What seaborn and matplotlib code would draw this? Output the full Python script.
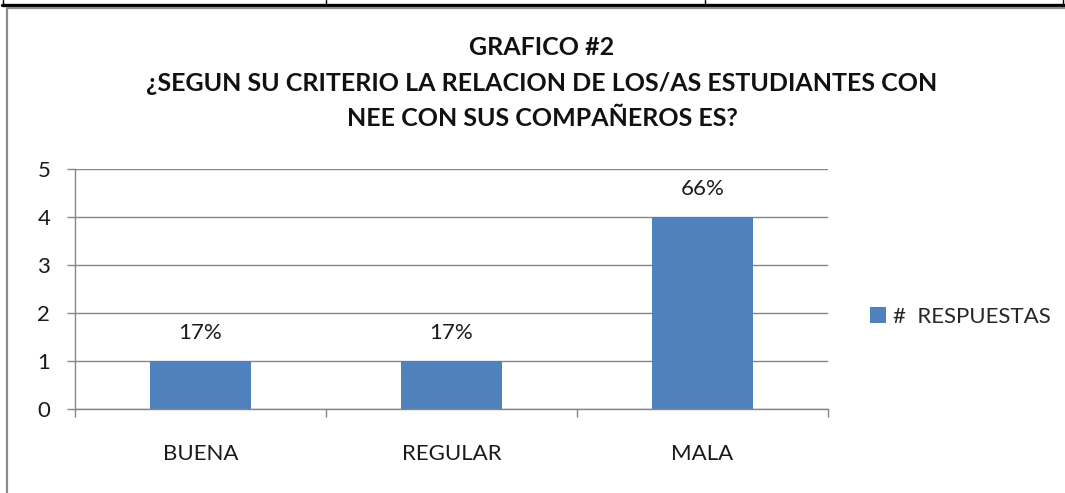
import matplotlib
matplotlib.use("Agg")
import matplotlib.pyplot as plt
import seaborn as sns
import pandas as pd
from matplotlib.lines import Line2D
from matplotlib.patches import Patch

categories = ["BUENA", "REGULAR", "MALA"]
values = [1, 1, 4]
pct_labels = ["17%", "17%", "66%"]
series_name = "#  RESPUESTAS"
title_lines = ["GRAFICO #2",
               "¿SEGUN SU CRITERIO LA RELACION DE LOS/AS ESTUDIANTES CON",
               "NEE CON SUS COMPAÑEROS ES?"]
yticks = [0, 1, 2, 3, 4, 5]

sns.set_theme(style="white")
plt.rcParams['font.family'] = ['Lato', 'DejaVu Sans']

BAR = "#4F81BD"
GRID = "#868686"
TXT = "#1a1a1a"
FS = 16

W, H = 1065, 493
fig = plt.figure(figsize=(W / 100, H / 100), dpi=100)
ax = fig.add_axes([75 / W, 1 - 409 / H, (828 - 75) / W, (409 - 169) / H])

df = pd.DataFrame({"cat": categories, "val": values})
sns.barplot(data=df, x="cat", y="val", order=categories, color=BAR,
            width=0.4, saturation=1, ax=ax, edgecolor="none")

ax.set_xlim(-0.5, 2.5)
ax.set_ylim(0, 5)
ax.set_yticks(yticks)
ax.set_xlabel("")
ax.set_ylabel("")
ax.yaxis.grid(True, color=GRID, linewidth=1)
ax.set_axisbelow(True)
for s in ["top", "right"]:
    ax.spines[s].set_visible(False)
for s in ["left", "bottom"]:
    ax.spines[s].set_color(GRID)
    ax.spines[s].set_linewidth(1)

ax.tick_params(axis="y", which="major", length=5.8, width=1, color=GRID,
               pad=12, labelsize=FS, labelcolor=TXT, left=True)
ax.set_xticks([-0.5, 0.5, 1.5, 2.5], minor=True)
ax.tick_params(axis="x", which="minor", length=5.8, width=1, color=GRID, bottom=True)
ax.tick_params(axis="x", which="major", length=0, pad=25, labelsize=FS,
               labelcolor=TXT)
ax.patch.set_alpha(0)

for i, (v, lab) in enumerate(zip(values, pct_labels)):
    ax.annotate(lab, (i, v), xytext=(0, 20), textcoords="offset points",
                ha="center", va="center", fontsize=FS, color=TXT)

handle = Patch(facecolor=BAR, edgecolor="none")
fig.legend([handle], [series_name], loc="center left",
           bbox_to_anchor=(870 / W, 1 - 317 / H), frameon=False,
           fontsize=FS, handlelength=0.7, handleheight=0.7,
           handletextpad=0.35, borderaxespad=0, borderpad=0)

ys = [55, 91, 126]
for t, y in zip(title_lines, ys):
    fig.text(542 / W, 1 - y / H, t, ha="center", va="baseline",
             fontsize=18, fontweight="bold", color="#111111")

# document frame
fig.add_artist(Line2D([2 / W, 1], [1 - 4.5 / H] * 2, color="black", lw=2.4,
                      transform=fig.transFigure))
for x in [2.5, 326, 705, 1062.5]:
    fig.add_artist(Line2D([x / W] * 2, [1, 1 - 5 / H], color="black", lw=1,
                          transform=fig.transFigure))
fig.add_artist(Line2D([6.5 / W, 6.5 / W, 1], [0, 1 - 8 / H, 1 - 8 / H],
                      color="#8c8c8c", lw=1.6, transform=fig.transFigure))

fig.savefig("out.png", dpi=100)
